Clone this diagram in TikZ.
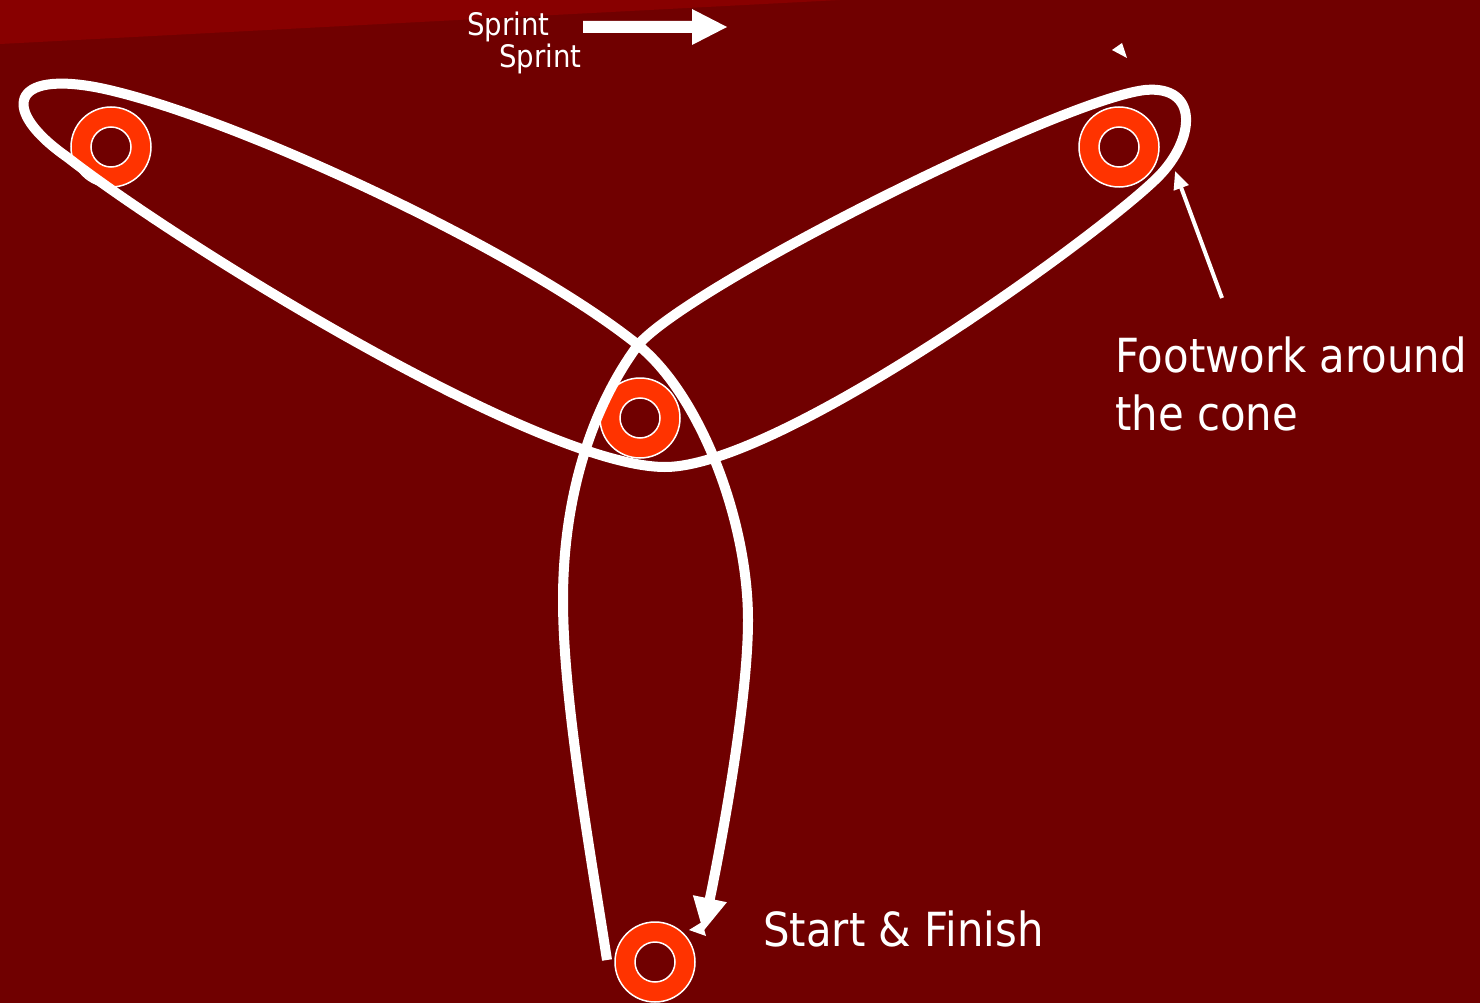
\documentclass[tikz,border=0pt]{standalone}
\usepackage{fontspec}
\newfontfamily\tahfont[FakeStretch=0.89]{DejaVu Sans}
\usetikzlibrary{arrows.meta}
\definecolor{bgred}{HTML}{700000}
\definecolor{bandred}{HTML}{880000}
\definecolor{coneorange}{HTML}{FF3300}
\tikzset{
  cone/.style={circle, inner sep=0pt, minimum size=80pt, fill=coneorange, draw=white, line width=1.5pt,
    path picture={\draw[white, line width=1.5pt, fill=bgred] (path picture bounding box.center) circle (20);}},
  route/.style={white, line width=10pt},
  lbl/.style={text=white, inner sep=0pt, font=\tahfont\fontsize{47}{58}\selectfont},
  small/.style={text=white, inner sep=0pt, font=\tahfont\fontsize{31}{36}\selectfont},
}
\begin{document}
\begin{tikzpicture}[x=1pt,y=-1pt]
\useasboundingbox (0,0) rectangle (1480,1003);
\fill[bgred] (0,0) rectangle (1480,1003);
\fill[bandred] (0,0) -- (0,44) -- (840,0) -- cycle;

% cones
\node[cone] (c1) at (111,147) {};
\node[cone] (c2) at (1119,147) {};
\node[cone] (c3) at (640,418) {};
\node[cone] (c4) at (655,962) {};

% route
\coordinate (rstart) at (607,960);
\coordinate (rend) at (703,932);
\draw[route, -{Triangle[length=34pt,width=32pt]}] (rstart)
  .. controls (590,850) and (563,700) .. (563,600)
  .. controls (563,500) and (590,410) .. (638,345)
  .. controls (690,285) and (1060,100) .. (1145,90)
  .. controls (1200,85) and (1195,140) .. (1158,177)
  .. controls (1100,235) and (780,467) .. (665,467)
  .. controls (540,467) and (180,245) .. (67,157)
  .. controls (0,110) and (10,70) .. (100,88)
  .. controls (230,115) and (520,250) .. (638,345)
  .. controls (700,395) and (748,520) .. (748,620)
  .. controls (748,700) and (722,840) .. (rend);

% stray arrow fragments
\fill[white] (689,930) -- (702,922) -- (706,936) -- cycle;
\fill[white] (1112,50) -- (1122,43) -- (1127,58) -- cycle;

% sprint arrow
\fill[white] (583,21) -- (692,21) -- (692,9) -- (727,27) -- (692,45) -- (692,33) -- (583,33) -- cycle;

% labels
\node[small, anchor=base west] (s1) at (467,36) {Sprint};
\node[small, anchor=base west] (s2) at (499,68) {Sprint};
\node[lbl, anchor=base west] (sf) at (763,946) {Start \& Finish};
\node[lbl, anchor=base west, align=left] (fw) at (1115,430) {Footwork around\\the cone};

% pointer to cone
\coordinate (fwtail) at (1222,298);
\coordinate (fwtip) at (1175,171);
\draw[white, line width=4pt, -{Triangle[length=18pt,width=15pt]}] (fwtail) -- (fwtip);
\end{tikzpicture}
\end{document}
